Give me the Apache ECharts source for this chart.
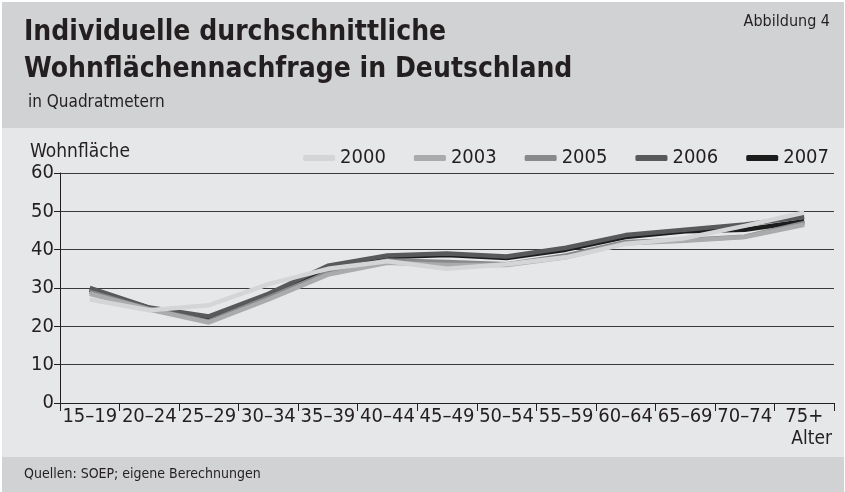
<!DOCTYPE html>
<html>
<head>
<meta charset="utf-8">
<script src="https://cdn.jsdelivr.net/npm/echarts@6/dist/echarts.min.js"></script>
<style>
  html, body { margin: 0; padding: 0; background: #fff; }
  #main { position: absolute; left: 2px; top: 2px; width: 842px; height: 490px; background: #e6e7e8; }
</style>
</head>
<body>
<div id="main"></div>
<script>
// Altersgruppen und Jahre
var categories = ['15–19', '20–24', '25–29', '30–34', '35–39', '40–44', '45–49', '50–54', '55–59', '60–64', '65–69', '70–74', '75+'];
var years = ['2000', '2003', '2005', '2006', '2007'];

// Wohnfläche in m²
var v2000 = [27, 24.2, 25.5, 31, 35, 37, 35, 36.2, 38, 41.5, 43, 46.2, 49.7];
var v2003 = [28.5, 24.4, 21, 27, 33.5, 36.6, 36, 36, 38, 41.7, 42.3, 43.3, 46.5];
var v2005 = [29, 24.5, 21.3, 27.5, 34, 37.2, 36.8, 36.2, 38.5, 42, 42.5, 43.4, 47];
var v2006 = [30, 24.9, 22.6, 28.5, 35.8, 38.5, 39, 38.2, 40.5, 43.8, 45.2, 46.6, 48.5];
var v2007 = [29.5, 24.8, 21.8, 28, 35.2, 38.1, 38.6, 37.8, 40, 43.3, 44.8, 45.2, 47.4];
var values = [v2000, v2003, v2005, v2006, v2007];
var colors = ['#d4d5d6', '#aaabac', '#88898a', '#58595b', '#1c1c1c'];

var yTicks = [0, 10, 20, 30, 40, 50, 60];

var font = "'DejaVu Sans Condensed', sans-serif";

var myChart = echarts.init(document.getElementById('main'));

// spätere Jahre zuerst zeichnen, 2000 liegt oben
var series = [];
for (var i = 0; i < years.length; i++) {
    series.push({
        name: years[i],
        type: 'line',
        data: values[i],
        symbol: 'none',
        z: 10 - i,
        lineStyle: { width: 4.5, color: colors[i] },
        itemStyle: { color: colors[i] }
    });
}

var option = {
    animation: false,
    textStyle: { fontFamily: font },
    graphic: [
        { type: 'rect', left: 0, top: 0, z: -10, shape: { width: 842, height: 126 }, style: { fill: '#d1d2d4' } },
        { type: 'rect', left: 0, top: 455, z: -10, shape: { width: 842, height: 40 }, style: { fill: '#d1d2d4' } },
        { type: 'text', left: 22, top: 12, style: { text: 'Individuelle durchschnittliche\nWohnflächennachfrage in Deutschland', font: 'bold 28px ' + font, fill: '#231f20', lineHeight: 37 } },
        { type: 'text', right: 14, top: 12, style: { text: 'Abbildung 4', font: '16px ' + font, fill: '#231f20' } },
        { type: 'text', left: 26, top: 92, style: { text: 'in Quadratmetern', font: '17px ' + font, fill: '#231f20' } },
        { type: 'text', left: 28, top: 141, style: { text: 'Wohnfläche', font: '19px ' + font, fill: '#231f20' } },
        { type: 'text', right: 12, top: 428, style: { text: 'Alter', font: '19px ' + font, fill: '#231f20' } },
        { type: 'text', left: 22, top: 465, style: { text: 'Quellen: SOEP; eigene Berechnungen', font: '14px ' + font, fill: '#231f20' } }
    ],
    legend: {
        data: years,
        right: 10,
        top: 141,
        icon: 'roundRect',
        itemWidth: 32,
        itemHeight: 6,
        itemGap: 28,
        textStyle: { fontSize: 20, color: '#231f20', fontFamily: font }
    },
    grid: { left: 58, right: 10, top: 171, bottom: 89, containLabel: false },
    xAxis: {
        type: 'category',
        data: categories,
        boundaryGap: true,
        axisLine: { lineStyle: { color: '#231f20', width: 1 } },
        axisTick: { show: true, length: 8, inside: false, lineStyle: { color: '#231f20' } },
        axisLabel: { interval: 0, fontSize: 20, color: '#231f20', margin: 4, fontFamily: font }
    },
    yAxis: {
        type: 'value',
        min: 0,
        max: 60,
        interval: 10,
        axisLine: { show: true, lineStyle: { color: '#231f20', width: 1 } },
        axisTick: { show: true, length: 6, lineStyle: { color: '#231f20' } },
        axisLabel: { fontSize: 20, color: '#231f20', margin: 6, fontFamily: font,
            formatter: function (v) { return yTicks.indexOf(v) >= 0 ? String(v) : ''; } },
        splitLine: { show: true, lineStyle: { color: '#3a3a3a', width: 1 } }
    },
    series: series
};

myChart.setOption(option);
</script>
</body>
</html>
